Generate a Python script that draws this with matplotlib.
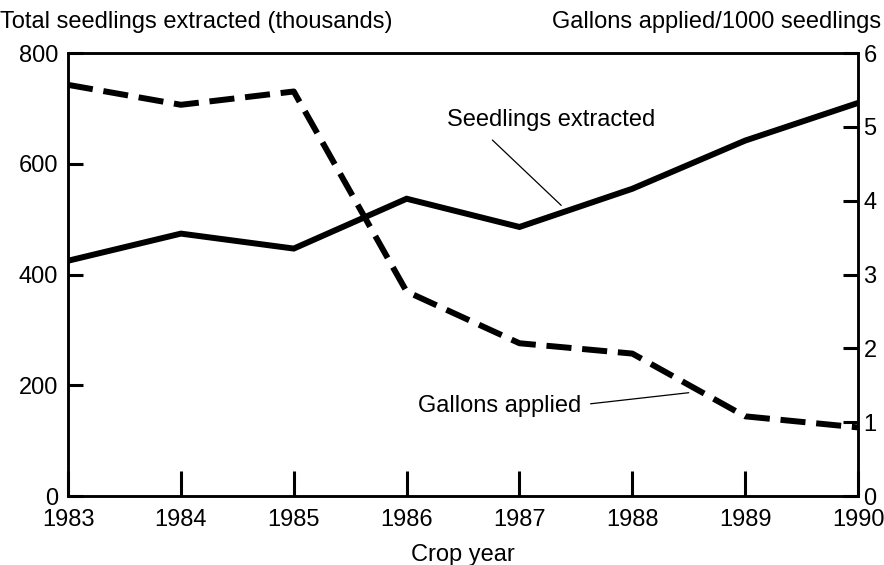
import matplotlib.pyplot as plt

# -------------------------
# DATA
# -------------------------
years = [1983, 1984, 1985, 1986, 1987, 1988, 1989, 1990]
seedlings = [425, 474, 447, 537, 486, 555, 642, 710]
gallons = [5.57, 5.30, 5.48, 2.77, 2.07, 1.93, 1.08, 0.93]

left_ticks = [0, 200, 400, 600, 800]
right_ticks = [0, 1, 2, 3, 4, 5, 6]

# -------------------------
# STYLE
# -------------------------
plt.rcParams["font.family"] = ["Liberation Sans", "DejaVu Sans"]
FS = 17

fig = plt.figure(figsize=(8.84, 5.65), dpi=100)
ax = fig.add_axes([0.077, 0.122, 0.8936, 0.784])
ax2 = ax.twinx()

ax.plot(years, seedlings, color="black", lw=4.3, solid_joinstyle="miter")
ax2.plot(years, gallons, color="black", lw=4.3, dashes=(4.2, 1.8))

ax.set_xlim(1983, 1990)
ax.set_ylim(0, 800)
ax2.set_ylim(0, 6)

ax.set_xticks(years)
ax.set_yticks(left_ticks)
ax2.set_yticks(right_ticks)

for a in (ax, ax2):
    for s in a.spines.values():
        s.set_linewidth(1.8)

ax.tick_params(axis="x", direction="in", length=18, width=2.2, pad=9,
               labelsize=FS)
ax.tick_params(axis="y", direction="in", length=11, width=2.2, pad=7,
               labelsize=FS)
ax2.tick_params(axis="y", direction="in", length=11, width=2.2, pad=4,
                labelsize=FS)

# -------------------------
# TEXT
# -------------------------
fig.text(0.0, 0.961, "Total seedlings extracted (thousands)",
         ha="left", va="center", fontsize=FS)
fig.text(0.997, 0.961, "Gallons applied/1000 seedlings",
         ha="right", va="center", fontsize=FS)
ax.set_xlabel("Crop year", fontsize=FS, labelpad=10)

# labels and leader lines
ax.text(1987.28, 679, "Seedlings extracted", ha="center", va="center",
        fontsize=FS)
ax.annotate("", xy=(1987.37, 525), xytext=(1986.76, 643),
            arrowprops=dict(arrowstyle="-", lw=0.9, color="black",
                            shrinkA=0, shrinkB=0))
ax2.text(1986.82, 1.22, "Gallons applied", ha="center", va="center",
         fontsize=FS)
ax2.annotate("", xy=(1988.5, 1.40), xytext=(1987.63, 1.25),
             arrowprops=dict(arrowstyle="-", lw=0.9, color="black",
                             shrinkA=0, shrinkB=0))

fig.savefig("out.png", dpi=100)
